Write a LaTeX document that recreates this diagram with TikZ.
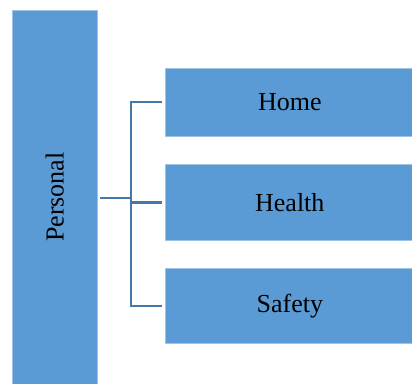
\documentclass[tikz,border=0pt]{standalone}
\usepackage{fontspec}
\setmainfont{Liberation Serif}
\definecolor{boxblue}{HTML}{5B9BD5}
\definecolor{boxedge}{HTML}{9DC3E6}
\definecolor{connblue}{HTML}{4677A9}
\begin{document}
\begin{tikzpicture}[x=1pt,y=-1pt,
  blk/.style={fill=boxblue,draw=boxedge,line width=0.6pt,inner sep=0pt,
    font=\fontsize{26}{30}\selectfont},
  conn/.style={draw=connblue,line width=2.2pt}]
\useasboundingbox (0,0) rectangle (412,383);
\node[blk,minimum width=84.5pt,minimum height=374pt] (P) at (54.75,197) {};
\node[rotate=90,font=\fontsize{26}{30}\selectfont] (Pl) at (P.center) {Personal};
\node[blk,minimum width=250pt,minimum height=67.5pt,anchor=west] (Home) at (164.5,102.25) {Home};
\node[blk,minimum width=250pt,minimum height=76pt,anchor=west] (Health) at (164.5,202.5) {Health};
\node[blk,minimum width=250pt,minimum height=74.5pt,anchor=west] (Safety) at (164.5,305.75) {Safety};
\coordinate (j) at (131,198.3);
\draw[conn] ([xshift=3pt]P.east |- j) -- ([xshift=1pt]j);
\draw[conn] ([xshift=-3pt]Home.west) -| (j) |- ([xshift=-3pt]Safety.west);
\draw[conn] ([xshift=-3pt]Health.west) -- (j |- Health.west);
\end{tikzpicture}
\end{document}
